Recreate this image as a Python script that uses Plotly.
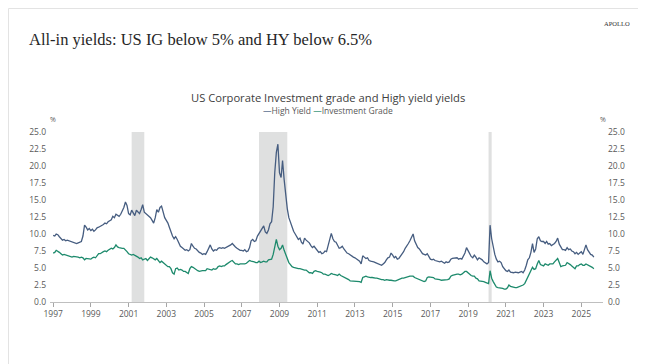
import pandas as pd
import plotly.graph_objects as go

# ---------------- data (monthly) ----------------
START_MONTH = "1997-01-01"

hy_yields = [
    9.8, 9.7, 10.0, 9.9, 9.6, 9.3, 9.1, 9.2, 9.0, 9.1, 9.0, 9.0,          # 1997
    8.8, 8.7, 8.7, 8.6, 8.7, 8.8, 8.9, 9.7, 11.3, 11.0, 10.6, 10.8,       # 1998
    10.5, 10.7, 10.4, 10.6, 10.9, 11.0, 11.1, 11.3, 11.4, 11.6, 11.5, 11.8,  # 1999
    12.0, 12.1, 12.6, 12.4, 12.9, 12.7, 12.6, 12.9, 13.3, 13.9, 14.7, 14.2,  # 2000
    13.0, 12.8, 13.5, 13.0, 12.7, 13.5, 13.2, 13.0, 13.6, 14.3, 13.2, 13.0,  # 2001
    12.9, 12.7, 12.4, 12.0, 11.6, 12.4, 13.6, 13.2, 13.9, 14.1, 13.0, 12.4,  # 2002
    12.0, 11.6, 11.0, 10.3, 9.7, 9.3, 9.6, 9.2, 8.7, 8.2, 8.0, 7.8,          # 2003
    7.6, 7.7, 7.5, 7.7, 8.6, 8.2, 7.9, 7.8, 7.5, 7.3, 7.2, 7.0,              # 2004
    7.1, 7.0, 7.4, 7.9, 8.4, 7.8, 7.5, 7.7, 7.6, 7.9, 8.0, 7.9,              # 2005
    8.0, 7.9, 8.0, 8.1, 8.2, 8.4, 8.6, 8.3, 8.1, 7.9, 7.7, 7.6,              # 2006
    7.6, 7.5, 7.7, 7.4, 7.5, 8.0, 9.0, 9.2, 8.9, 9.0, 9.7, 10.1,             # 2007
    10.5, 11.0, 11.2, 10.3, 10.1, 10.6, 11.5, 11.8, 14.0, 19.0, 22.0, 23.2,  # 2008
    19.0, 18.3, 20.8, 18.0, 15.5, 13.7, 12.4, 11.7, 11.0, 10.4, 10.0, 9.6,   # 2009
    9.2, 9.4, 8.8, 8.5, 9.4, 9.1, 8.9, 8.7, 8.3, 8.0, 8.2, 7.9,              # 2010
    7.6, 7.3, 7.4, 7.1, 7.2, 7.5, 7.4, 8.2, 9.2, 10.1, 9.3, 8.9,             # 2011
    8.8, 8.2, 7.9, 8.0, 8.2, 7.8, 7.5, 7.2, 7.1, 6.9, 6.8, 6.6,              # 2012
    6.5, 6.3, 6.2, 6.0, 5.6, 6.8, 6.6, 6.4, 6.5, 6.1, 6.0, 6.0,              # 2013
    5.9, 5.8, 5.7, 5.6, 5.5, 5.4, 5.6, 5.8, 6.2, 6.5, 6.6, 7.2,              # 2014
    6.9, 6.5, 6.7, 6.3, 6.4, 6.7, 7.0, 7.4, 7.9, 8.2, 8.6, 9.0,              # 2015
    9.5, 10.0, 9.0, 8.4, 8.0, 7.8, 7.4, 7.1, 7.0, 6.9, 7.1, 6.6,             # 2016
    6.3, 6.2, 6.3, 6.1, 6.0, 6.0, 5.9, 6.0, 5.8, 5.7, 5.9, 5.8,              # 2017
    5.9, 6.3, 6.4, 6.4, 6.5, 6.5, 6.3, 6.4, 6.3, 6.7, 7.2, 8.0,              # 2018
    7.5, 6.9, 6.7, 6.5, 6.9, 6.6, 6.2, 6.5, 6.4, 6.2, 5.9, 5.7,              # 2019
    5.6, 5.8, 11.3, 9.3, 8.0, 7.0, 6.3, 5.9, 6.0, 5.8, 5.2, 4.8,             # 2020
    4.6, 4.5, 4.7, 4.4, 4.3, 4.3, 4.4, 4.3, 4.3, 4.4, 4.5, 4.3,              # 2021
    4.7, 5.4, 6.2, 6.5, 7.3, 8.6, 7.3, 7.8, 9.3, 9.6, 9.0, 8.9,              # 2022
    8.9, 8.6, 8.9, 8.5, 8.6, 8.3, 8.4, 8.6, 8.9, 9.4, 8.5, 8.0,              # 2023
    7.7, 7.7, 7.6, 8.0, 7.7, 7.8, 7.5, 7.4, 7.1, 7.3, 7.0, 7.2,              # 2024
    7.4, 7.0, 7.6, 8.4, 7.7, 7.3, 7.0, 6.9, 6.6,                            # 2025
]

ig_yields = [
    7.2, 7.3, 7.6, 7.5, 7.3, 7.1, 6.9, 7.0, 6.9, 6.8, 6.8, 6.7,   # 1997
    6.6, 6.7, 6.7, 6.7, 6.6, 6.5, 6.6, 6.5, 6.2, 6.4, 6.4, 6.3,   # 1998
    6.3, 6.5, 6.6, 6.5, 6.8, 7.1, 7.1, 7.3, 7.4, 7.5, 7.4, 7.6,   # 1999
    7.8, 7.9, 7.8, 8.0, 8.4, 8.1, 8.0, 7.9, 7.9, 7.9, 7.7, 7.4,   # 2000
    7.1, 7.0, 6.9, 7.0, 6.9, 6.8, 6.6, 6.4, 6.5, 6.2, 6.3, 6.4,   # 2001
    6.1, 6.3, 6.6, 6.5, 6.3, 6.2, 6.4, 6.1, 5.8, 6.0, 5.8, 5.5,   # 2002
    5.4, 5.2, 5.2, 4.9, 4.3, 4.1, 4.9, 5.0, 4.7, 4.8, 4.7, 4.5,   # 2003
    4.5, 4.3, 4.2, 4.9, 5.2, 5.1, 4.9, 4.7, 4.6, 4.5, 4.6, 4.6,   # 2004
    4.6, 4.6, 4.9, 4.8, 4.8, 4.7, 4.9, 4.8, 4.9, 5.2, 5.3, 5.2,   # 2005
    5.3, 5.3, 5.5, 5.7, 5.8, 6.0, 6.1, 5.8, 5.6, 5.6, 5.5, 5.6,   # 2006
    5.6, 5.5, 5.6, 5.7, 5.9, 6.1, 6.0, 6.0, 5.9, 5.8, 5.8, 6.0,   # 2007
    5.8, 5.9, 6.0, 5.9, 5.9, 6.2, 6.3, 6.3, 7.0, 8.3, 9.2, 8.2,   # 2008
    7.7, 7.9, 8.4, 7.6, 6.9, 6.4, 5.8, 5.5, 5.2, 5.1, 5.0, 5.0,   # 2009
    4.9, 4.9, 4.8, 4.8, 4.7, 4.7, 4.5, 4.3, 4.3, 4.2, 4.5, 4.6,   # 2010
    4.5, 4.5, 4.4, 4.3, 4.1, 4.1, 4.0, 3.9, 4.0, 4.2, 4.1, 4.1,   # 2011
    4.0, 3.9, 4.1, 3.9, 3.8, 3.7, 3.5, 3.5, 3.3, 3.1, 3.1, 3.1,   # 2012
    3.0, 3.0, 3.0, 3.0, 2.9, 3.6, 3.7, 3.8, 3.7, 3.6, 3.6, 3.6,   # 2013
    3.5, 3.5, 3.5, 3.4, 3.3, 3.3, 3.3, 3.2, 3.3, 3.2, 3.2, 3.2,   # 2014
    3.1, 3.1, 3.1, 3.2, 3.3, 3.5, 3.5, 3.5, 3.6, 3.6, 3.7, 3.8,   # 2015
    3.8, 3.8, 3.6, 3.5, 3.4, 3.3, 3.1, 3.0, 3.0, 3.1, 3.6, 3.7,   # 2016
    3.7, 3.6, 3.6, 3.4, 3.4, 3.3, 3.3, 3.2, 3.2, 3.3, 3.3, 3.3,   # 2017
    3.4, 3.8, 3.9, 4.0, 4.1, 4.1, 4.1, 4.0, 4.1, 4.3, 4.5, 4.5,   # 2018
    4.3, 4.0, 3.9, 3.8, 3.8, 3.5, 3.4, 3.1, 3.1, 3.1, 3.0, 2.9,   # 2019
    2.8, 2.7, 4.6, 3.5, 3.0, 2.6, 2.2, 2.1, 2.1, 2.1, 2.0, 1.9,   # 2020
    1.9, 2.1, 2.5, 2.3, 2.2, 2.2, 2.1, 2.1, 2.2, 2.3, 2.3, 2.5,   # 2021
    2.7, 3.2, 3.7, 4.3, 4.6, 5.1, 4.8, 4.9, 5.6, 6.1, 5.5, 5.4,   # 2022
    5.3, 5.6, 5.5, 5.4, 5.6, 5.6, 5.6, 5.9, 6.1, 6.4, 5.8, 5.2,   # 2023
    5.3, 5.4, 5.4, 5.8, 5.7, 5.5, 5.3, 5.1, 4.9, 5.3, 5.3, 5.5,   # 2024
    5.6, 5.4, 5.4, 5.6, 5.5, 5.3, 5.3, 5.1, 4.9,                 # 2025
]

recession_starts = ["2001-03-01", "2007-12-01", "2020-02-01"]
recession_ends = ["2001-11-01", "2009-06-01", "2020-04-01"]

y_tick_values = [0, 2.5, 5, 7.5, 10, 12.5, 15, 17.5, 20, 22.5, 25]
x_tick_years = list(range(1997, 2026, 2))

series_names = ["High Yield", "Investment Grade"]
series_colors = ["#465d80", "#1d8a6c"]

title_text = "All-in yields: US IG below 5% and HY below 6.5%"
chart_title = "US Corporate Investment grade and High yield yields"
brand = "APOLLO"

# ---------------- figure ----------------
dates = pd.date_range(START_MONTH, periods=len(hy_yields), freq="MS")

PAGE_W, PAGE_H = 646, 364
BODY = 8                       # default page body margin
W, H = PAGE_W - BODY, PAGE_H - BODY
L, R, T, B = 50, 603, 132, 302  # plot area in page pixels


def px(x):
    return (x - L) / (R - L)


def py(y):
    return (B - y) / (B - T)


fig = go.Figure()
fig.add_trace(go.Scatter(x=dates, y=hy_yields, mode="lines", name=series_names[0],
                         line=dict(color=series_colors[0], width=1.3), showlegend=False))
fig.add_trace(go.Scatter(x=dates, y=ig_yields, mode="lines", name=series_names[1],
                         line=dict(color=series_colors[1], width=1.3), showlegend=False))
# invisible trace to activate right axis
fig.add_trace(go.Scatter(x=dates, y=ig_yields, mode="lines", yaxis="y2",
                         line=dict(width=0), opacity=0, showlegend=False, hoverinfo="skip"))

for s, e in zip(recession_starts, recession_ends):
    fig.add_shape(type="rect", xref="x", yref="y", x0=s, x1=e, y0=0, y1=25,
                  fillcolor="#dfe0e0", line=dict(width=0), layer="below")

# card border
fig.add_shape(type="rect", xref="paper", yref="paper",
              x0=px(BODY + 0.5), x1=px(640), y0=py(390), y1=py(BODY + 0.5),
              line=dict(color="#e3e3e3", width=1), fillcolor="rgba(0,0,0,0)", layer="below")

tick_font = dict(family="Open Sans, Segoe UI, sans-serif", size=8.5, color="#595959")

fig.update_layout(
    width=W, height=H,
    margin=dict(l=L - BODY, r=PAGE_W - R, t=T - BODY, b=PAGE_H - B, pad=0),
    paper_bgcolor="white", plot_bgcolor="white",
    showlegend=False,
    xaxis=dict(
        type="date",
        range=["1996-11-01", "2026-02-25"],
        tickvals=[f"{y}-01-01" for y in x_tick_years],
        ticktext=[str(y) for y in x_tick_years],
        ticks="outside", ticklen=4, tickcolor="#a6a6a6", tickwidth=1,
        showline=True, linecolor="#bfbfbf", linewidth=1,
        showgrid=False, zeroline=False,
        tickfont=tick_font,
    ),
    yaxis=dict(
        range=[0, 25], tickvals=y_tick_values, tickformat=".1f",
        showgrid=False, zeroline=False, showline=False, ticks="",
        tickfont=tick_font, ticklabelstandoff=3,
    ),
    yaxis2=dict(
        range=[0, 25], tickvals=y_tick_values, tickformat=".1f",
        overlaying="y", side="right",
        showgrid=False, zeroline=False, showline=False, ticks="",
        tickfont=tick_font, ticklabelstandoff=4,
    ),
)

ann = []
ann.append(dict(text=title_text, x=px(27), y=py(40), xref="paper", yref="paper",
                xanchor="left", yanchor="middle", showarrow=False,
                font=dict(family="Liberation Serif, serif", size=16.5, color="#262626")))
ann.append(dict(text=brand, x=px(617), y=py(23), xref="paper", yref="paper",
                xanchor="center", yanchor="middle", showarrow=False,
                font=dict(family="Liberation Serif, serif", size=6.5, color="#333333")))
ann.append(dict(text=chart_title, x=px(328), y=py(97), xref="paper", yref="paper",
                xanchor="center", yanchor="middle", showarrow=False,
                font=dict(family="Open Sans, Segoe UI, sans-serif", size=11.2, color="#404040")))
legend_text = (f"<span style='color:{series_colors[0]}'>—</span>{series_names[0]} "
               f"<span style='color:{series_colors[1]}'>—</span>{series_names[1]}")
ann.append(dict(text=legend_text, x=px(328), y=py(110), xref="paper", yref="paper",
                xanchor="center", yanchor="middle", showarrow=False,
                font=dict(family="Open Sans, Segoe UI, sans-serif", size=8.5, color="#595959")))
ann.append(dict(text="%", x=px(53), y=py(119), xref="paper", yref="paper",
                xanchor="center", yanchor="middle", showarrow=False,
                font=dict(family="Open Sans, sans-serif", size=7, color="#595959")))
ann.append(dict(text="%", x=px(603), y=py(119), xref="paper", yref="paper",
                xanchor="center", yanchor="middle", showarrow=False,
                font=dict(family="Open Sans, sans-serif", size=7, color="#595959")))
fig.update_layout(annotations=ann)

fig.write_html("out.html")
